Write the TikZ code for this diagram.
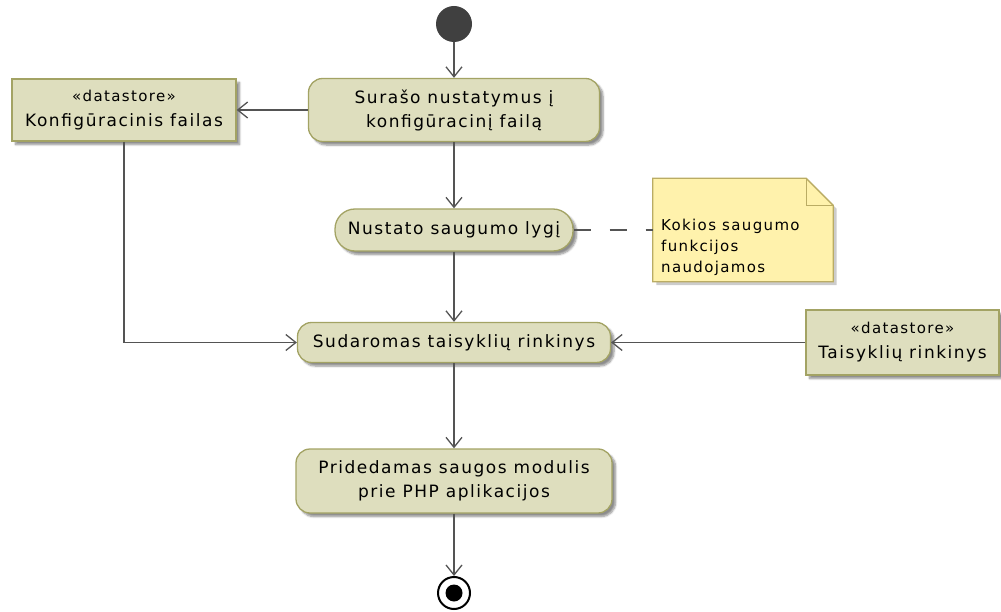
\documentclass[tikz,border=0pt]{standalone}
\usepackage{fontspec}
\setmainfont{DejaVu Sans}[LetterSpace=9]
\usetikzlibrary{arrows.meta,shadows.blur}

\definecolor{actfill}{RGB}{222,222,190}
\definecolor{actline}{RGB}{163,163,100}
\definecolor{notefill}{RGB}{255,242,172}
\definecolor{noteline}{RGB}{186,172,100}
\definecolor{flowcol}{RGB}{84,84,84}
\definecolor{startcol}{RGB}{64,64,64}

% smaller type for the stereotype line
\newcommand{\stereotypefont}{\fontsize{15}{15}\selectfont}

\tikzset{
  softshadow/.style={blur shadow={shadow xshift=3.5pt, shadow yshift=-3.5pt,
      shadow blur steps=6, shadow blur radius=2pt, shadow opacity=45}},
  action/.style={draw=actline, line width=1.3pt, fill=actfill,
      rounded corners=14pt, align=center, inner sep=0pt,
      font=\fontsize{17}{24}\selectfont, softshadow},
  store/.style={draw=actline, line width=1.3pt, fill=actfill,
      align=center, inner sep=0pt,
      font=\fontsize{17}{20}\selectfont, softshadow},
  flow/.style={draw=flowcol, line width=1.3pt,
      -{Straight Barb[length=10pt,width=16pt,line width=1.3pt]}},
  anchorline/.style={draw=flowcol, line width=1.3pt, dash pattern=on 17pt off 19pt}
}

\begin{document}
\begin{tikzpicture}[x=1pt, y=-1pt]
  \useasboundingbox (0,0) rectangle (1001,612);

  % start and end of the activity
  \node[circle, fill=startcol, minimum size=36pt, inner sep=0pt] (start) at (454,24) {};
  \node[circle, draw=black, line width=2pt, fill=white, minimum size=32pt, inner sep=0pt] (finish) at (454,593) {};
  \node[circle, fill=black, minimum size=17pt, inner sep=0pt] (finishdot) at (454,593) {};

  % actions
  \node[action, minimum width=291pt, minimum height=63pt] (a1) at (454,110)
      {Surašo nustatymus į\\konfigūracinį failą};
  \node[action, rounded corners=20pt, minimum width=238pt, minimum height=42pt] (a2) at (454,230)
      {Nustato saugumo lygį};
  \node[action, minimum width=313pt, minimum height=40pt] (a3) at (454,342.5)
      {Sudaromas taisyklių rinkinys};
  \node[action, minimum width=316pt, minimum height=64pt] (a4) at (454,481)
      {Pridedamas saugos modulis\\prie PHP aplikacijos};

  % data stores
  \node[store, minimum width=224pt, minimum height=62pt] (ds1) at (124,110)
      {{\stereotypefont «datastore»}\\[5pt]Konfigūracinis failas};
  \node[store, minimum width=193pt, minimum height=65pt] (ds2) at (902.5,342.5)
      {{\stereotypefont «datastore»}\\[5pt]Taisyklių rinkinys};

  % note with folded corner
  \node[minimum width=180pt, minimum height=103pt, inner sep=0pt] (note) at (743,230) {};
  \fill[black, opacity=0.2] ([shift={(3.5,3.5)}]note.north west) -- ([shift={(-23.5,3.5)}]note.north east)
      -- ([shift={(3.5,30.5)}]note.north east) -- ([shift={(3.5,3.5)}]note.south east)
      -- ([shift={(3.5,3.5)}]note.south west) -- cycle;
  \draw[noteline, line width=1.3pt, fill=notefill]
      (note.north west) -- ([xshift=-27pt]note.north east) -- ([yshift=-27pt]note.north east)
      -- (note.south east) -- (note.south west) -- cycle;
  \draw[noteline, line width=1.3pt]
      ([xshift=-27pt]note.north east) -- ([shift={(-27,27)}]note.north east) -- ([yshift=-27pt]note.north east);
  \node[anchor=west, align=left, inner sep=0pt, font=\fontsize{15}{21}\selectfont] (notetext) at (661,247)
      {Kokios saugumo\\funkcijos\\naudojamos};

  % control and object flows
  \draw[flow] (start) -- (a1);
  \draw[flow] (a1) -- (ds1);
  \draw[flow] (a1) -- (a2);
  \draw[flow] (a2) -- (a3);
  \draw[flow] (ds1.south) |- (a3.west);
  \draw[flow] (ds2) -- (a3);
  \draw[flow] (a3) -- (a4);
  \draw[flow] (a4) -- (finish);
  \draw[anchorline] (a2.east) -- (note.west);
\end{tikzpicture}
\end{document}
